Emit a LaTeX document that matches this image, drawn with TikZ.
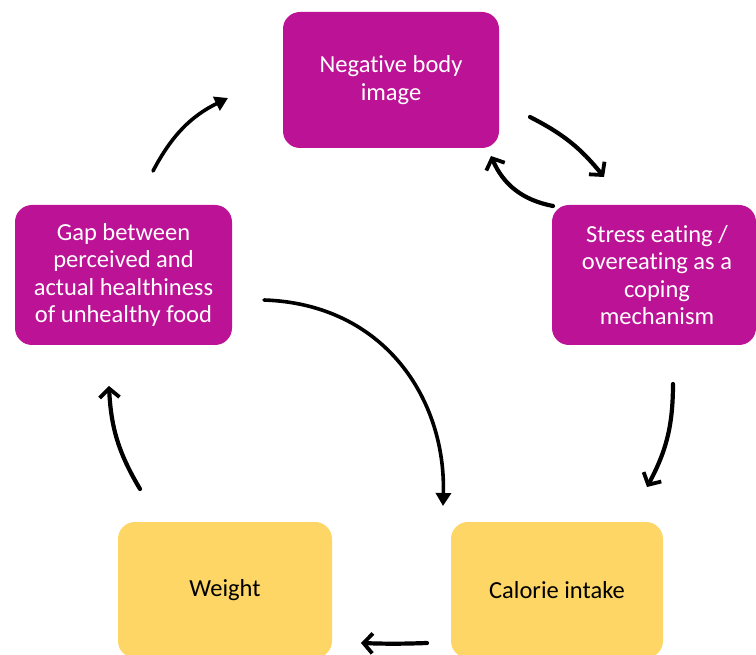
\documentclass[tikz,border=0pt]{standalone}
\usepackage{fontspec}
\setmainfont{Carlito}[Ligatures=NoCommon]
\usetikzlibrary{arrows.meta}
\definecolor{boxmagenta}{RGB}{188,19,150}
\definecolor{boxyellow}{RGB}{253,214,102}
\tikzset{
  card/.style={rounded corners=17pt, inner sep=4pt, align=center,
    font=\fontsize{24.5}{27.5}\selectfont},
  pinkcard/.style={card, fill=boxmagenta, text=white},
  yellowcard/.style={card, fill=boxyellow, text=black},
  flow/.style={line width=4.2pt, line cap=round,
    -{Straight Barb[length=9pt,width=20pt,line width=3.8pt]}},
  flowsolid/.style={line width=3.6pt, line cap=round,
    -{Triangle[length=13pt,width=15pt]}}
}
\begin{document}
\begin{tikzpicture}[x=1pt,y=-1pt]
\useasboundingbox (0,0) rectangle (756,655);
% boxes of the cycle
\node[pinkcard, minimum width=216pt, minimum height=136pt] (body) at (391,80)
  {Negative body\\image};
\node[pinkcard, minimum width=204pt, minimum height=140pt] (stress) at (654,275) {};
\node[card, text=white] (stressText) at (657,275)
  {Stress eating /\\overeating as a\\coping\\mechanism};
\node[pinkcard, minimum width=217pt, minimum height=140pt] (gap) at (123.5,275)
  {Gap between\\perceived and\\actual healthiness\\of unhealthy food};
\node[yellowcard, minimum width=214pt, minimum height=136pt] (weight) at (225,590) {Weight};
\node[yellowcard, minimum width=212pt, minimum height=136pt] (calorie) at (557,590) {Calorie intake};
% free ends of the connectors
\coordinate (bodyOut) at (530,117);   \coordinate (stressIn) at (604,177);
\coordinate (stressBack) at (553,206); \coordinate (bodyIn) at (491,156);
\coordinate (stressOut) at (673,384); \coordinate (calIn) at (647,487);
\coordinate (calOut) at (427,643);    \coordinate (weightIn) at (361,643);
\coordinate (weightOut) at (140,489); \coordinate (gapIn) at (109,386);
\coordinate (gapOut) at (153,171);    \coordinate (bodyIn2) at (228,98);
\coordinate (gapOut2) at (264,300);   \coordinate (calIn2) at (443,506);
% connectors
\draw[flow] (bodyOut) to[bend left=12] (stressIn);
\draw[flow] (stressBack) to[bend left=28] (bodyIn);
\draw[flow] (stressOut) to[bend left=14] (calIn);
\draw[flow] (calOut) to[bend left=2] (weightIn);
\draw[flow] (weightOut) to[bend left=14] (gapIn);
\draw[flowsolid] (gapOut) to[bend left=18] (bodyIn2);
\draw[flowsolid] (gapOut2) .. controls (385,304) and (446,400) .. (calIn2);
\end{tikzpicture}
\end{document}
